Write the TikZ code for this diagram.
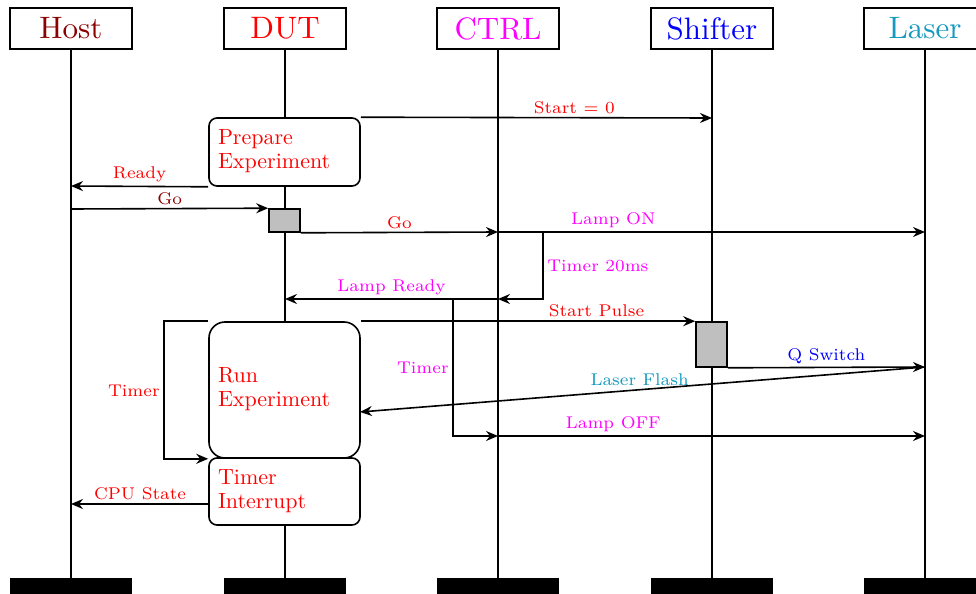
\documentclass[tikz,border=0pt]{standalone}
\usepackage{graphicx}
\usetikzlibrary{arrows.meta}
\definecolor{hostc}{rgb}{0.55,0.0,0.0}
\definecolor{laserc}{rgb}{0.08,0.6,0.75}
\definecolor{mag}{rgb}{1,0,1}
\definecolor{rd}{rgb}{1,0,0}
\definecolor{bl}{rgb}{0,0,1}
\newcommand{\hd}[1]{\scalebox{1.55}{#1}}
\newcommand{\twol}[2]{\scalebox{1.1}{\begin{tabular}{@{}l@{}}#1\\#2\end{tabular}}}
\begin{document}
\begin{tikzpicture}[x=0.5pt,y=-0.5pt,
 hdr/.style={draw, line width=0.8pt, fill=white, minimum width=61pt, minimum height=20.5pt, inner sep=0pt, font=\fontsize{10}{12}\selectfont},
 bar/.style={fill=black, minimum width=61pt, minimum height=8pt, inner sep=0pt},
 life/.style={line width=1pt},
 msg/.style={line width=0.8pt, -{Stealth[length=6pt,width=5pt,inset=2pt]}},
 lbl/.style={font=\fontsize{7}{8}\selectfont, scale=1.214, above, inner sep=1.24pt},
 sidelbl/.style={font=\fontsize{7}{8}\selectfont, scale=1.214, inner sep=1.6pt},
 act/.style={draw, line width=0.8pt, fill=white, rounded corners=4pt, minimum width=75.5pt, minimum height=34pt, text width=66.5pt, inner xsep=4.5pt, inner ysep=0pt, align=left, font=\fontsize{10}{11}\selectfont, text=rd},
 gbox/.style={draw, line width=0.8pt, fill=black!25, inner sep=0pt, minimum width=15.5pt}
]
\useasboundingbox (0,0) rectangle (976,594);
% headers
\node[hdr, text=hostc] (host) at (71,28.5) {\hd{Host}};
\node[hdr, text=rd] (dut) at (285,28.5) {\hd{DUT}};
\node[hdr, text=mag] (ctrl) at (498,28.5) {\hd{CTRL}};
\node[hdr, text=bl] (shif) at (712,28.5) {\hd{Shifter}};
\node[hdr, text=laserc] (laser) at (925,28.5) {\hd{Laser}};
% bottom bars
\node[bar] (hostb) at (71,586) {};
\node[bar] (dutb) at (285,586) {};
\node[bar] (ctrlb) at (498,586) {};
\node[bar] (shifb) at (712,586) {};
\node[bar] (laserb) at (925,586) {};
% lifelines
\draw[life] (host.south) -- (hostb.north);
\draw[life] (dut.south) -- (dutb.north);
\draw[life] (ctrl.south) -- (ctrlb.north);
\draw[life] (shif.south) -- (shifb.north);
\draw[life] (laser.south) -- (laserb.north);
% activations
\node[act] (prep) at (284.5,152) {\twol{Prepare}{Experiment}};
\node[act, rounded corners=8pt, minimum height=68pt] (run) at (284.5,390) {\twol{Run}{Experiment}};
\node[act, minimum height=33.5pt] (ti) at (284.5,491.5) {\twol{Timer}{Interrupt}};
\node[gbox, minimum height=11.5pt] (g1) at (284.5,220.5) {};
\node[gbox, minimum height=22.5pt] (sg) at (711.5,344.5) {};
% coordinates on lifelines
\coordinate (sh1) at (712,118);
\coordinate (h1) at (71,186);
\coordinate (h2) at (71,209);
\coordinate (c1) at (498,232);
\coordinate (l1) at (925,232);
\coordinate (t20) at (543,266);
\coordinate (c2) at (498,299);
\coordinate (d1) at (285,299);
\coordinate (tb) at (453,299);
\coordinate (c3) at (498,436);
\coordinate (l3) at (925,436);
\coordinate (l2) at (925,367);
\coordinate (rf) at (360,412);
\coordinate (tr) at (164,391);
\coordinate (cpu0) at (209,504);
\coordinate (h3) at (71,504);
% messages
\draw[msg] (prep.north east) -- (sh1) node[lbl, text=rd, pos=0.608] {Start = 0};
\draw[msg] (prep.south west) -- (h1) node[lbl, text=rd, pos=0.5] {Ready};
\draw[msg] (h2) -- (g1.north west) node[lbl, text=hostc, pos=0.5] {Go};
\draw[msg] (g1.south east) -- (c1) node[lbl, text=rd, pos=0.5] {Go};
\draw[msg] (c1) -- (l1) node[lbl, text=mag, pos=0.27] {Lamp ON};
\draw[msg] (c1) -- (c1 -| t20) -- (c2 -| t20) -- (c2);
\node[sidelbl, text=mag, right] (t20l) at (t20) {Timer 20ms};
\draw[msg] (c2) -- (d1) node[lbl, text=mag, pos=0.5] {Lamp Ready};
\draw[msg] (tb) |- (c3);
\node[sidelbl, text=mag, left] (tbl) at (453,368) {Timer};
\draw[msg] (run.north east) -- (sg.north west) node[lbl, text=rd, pos=0.705] {Start Pulse};
\draw[msg] (sg.south east) -- (l2) node[lbl, text=bl, pos=0.5] {Q Switch};
\draw[msg] (l2) -- (rf) node[lbl, text=laserc, pos=0.505] {Laser Flash};
\draw[msg] (c3) -- (l3) node[lbl, text=mag, pos=0.27] {Lamp OFF};
\draw[msg] (run.north west) -- (run.north west -| tr) -- (run.south west -| tr) -- (run.south west);
\node[sidelbl, text=rd, left] (trl) at (tr) {Timer};
\draw[msg] (cpu0) -- (h3) node[lbl, text=rd, pos=0.5] {CPU State};
\end{tikzpicture}
\end{document}
